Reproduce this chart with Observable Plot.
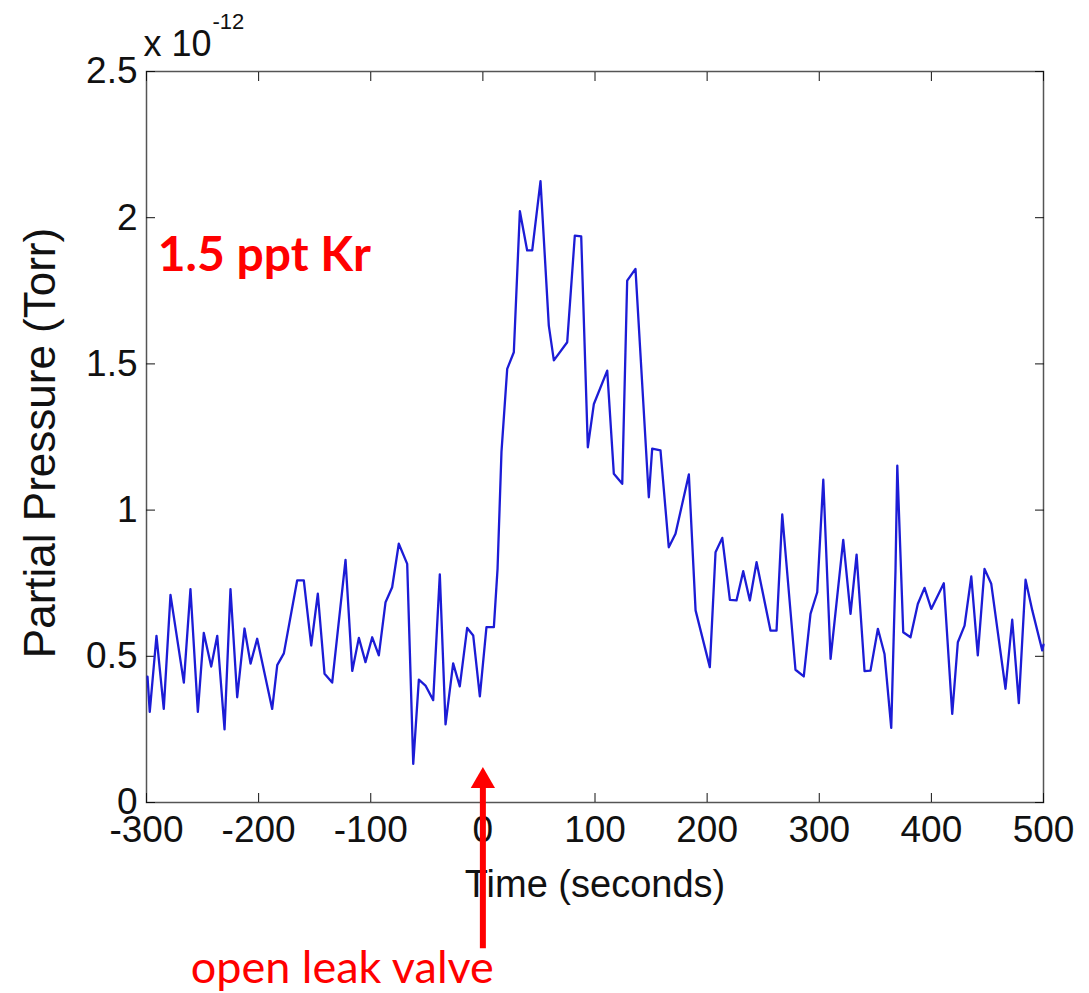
<!DOCTYPE html>
<html><head><meta charset="utf-8">
<script src="https://cdn.jsdelivr.net/npm/d3@7"></script>
<script src="https://cdn.jsdelivr.net/npm/@observablehq/plot@0.6"></script>
<style>html,body{margin:0;padding:0;background:#fff}</style>
</head><body><div id="chart"></div>
<script>
// Time (seconds) of each sample
const time = [
  -299.1,-297.1,-291.1,-284.6,-278.6,-266.7,-260.8,-254.2,-248.9,-242.3,
  -236.9,-230.4,-225.1,-219.1,-212.6,-207.2,-201.3,-187.9,-183.4,-177.5,
  -165.6,-159.7,-153.1,-147.2,-141.2,-134.4,-122.5,-116.5,-110.6,-104.7,
  -98.7,-92.8,-86.8,-80.9,-75.0,-67.5,-62.1,-57.1,-51.2,-44.3,
  -38.4,-33.3,-26.5,-20.6,-14.0,-8.6,-2.7,3.2,9.8,13.1,
  16.6,21.7,27.6,33.0,39.5,44.0,51.4,58.8,63.3,75.2,
  82.0,87.7,93.6,99.0,110.9,116.8,124.3,128.7,136.1,148.0,
  151.0,158.4,165.8,171.8,183.7,189.7,202.4,207.5,213.5,220.3,
  226.2,232.2,238.1,244.1,256.5,261.9,267.0,278.8,286.2,292.2,
  298.2,303.6,310.1,321.4,327.9,333.3,340.4,345.7,352.3,358.2,
  364.2,368.0,369.6,374.9,381.4,387.9,393.9,399.9,411.1,418.6,
  423.6,429.6,435.6,441.4,447.4,453.4,466.1,472.1,478.0,484.0,
  490.0,498.9,500
];
// Partial pressure, in units of 1e-12 Torr
const pressure = [
  0.43,0.31,0.57,0.32,0.71,0.41,0.73,0.31,0.58,0.465,
  0.57,0.25,0.73,0.36,0.595,0.475,0.56,0.32,0.47,0.51,
  0.76,0.76,0.537,0.714,0.44,0.41,0.83,0.45,0.563,0.48,
  0.565,0.503,0.685,0.736,0.885,0.816,0.132,0.42,0.40,0.35,
  0.78,0.267,0.476,0.397,0.597,0.571,0.363,0.6,0.6,0.8,
  1.2,1.483,1.54,2.022,1.888,1.888,2.125,1.631,1.512,1.574,
  1.939,1.936,1.215,1.363,1.477,1.124,1.09,1.785,1.825,1.044,
  1.21,1.204,0.873,0.919,1.122,0.657,0.463,0.856,0.905,0.693,
  0.691,0.791,0.691,0.822,0.588,0.588,0.985,0.454,0.431,0.645,
  0.719,1.104,0.491,0.898,0.645,0.848,0.449,0.451,0.594,0.508,
  0.255,0.793,1.152,0.582,0.565,0.679,0.734,0.662,0.75,0.303,
  0.548,0.605,0.773,0.503,0.799,0.748,0.389,0.625,0.34,0.762,
  0.657,0.52,0.54
];
const xTicks = [-300,-200,-100,0,100,200,300,400,500];
const yTicks = [0,0.5,1,1.5,2,2.5];
const xLabel = "Time (seconds)";
const yLabel = "Partial Pressure (Torr)";
const scaleBase = "x 10";
const scaleExp = "-12";
const sampleLabel = "1.5 ppt Kr";
const eventTime = [0];
const eventLabel = "open leak valve";

const data = time.map((t, i) => ({t, p: pressure[i]}));
const red = "#ff0000";
const axisFont = "'Liberation Sans', Arial, sans-serif";
const noteFont = "Lato, 'Open Sans', sans-serif";

const chart = Plot.plot({
  width: 1089,
  height: 993,
  marginLeft: 146,
  marginRight: 46,
  marginTop: 71,
  marginBottom: 191,
  style: {fontFamily: axisFont, fontSize: "36px", color: "#111", background: "#fff"},
  x: {domain: [-300, 500]},
  y: {domain: [0, 2.5]},
  marks: [
    Plot.frame({stroke: "#555", strokeWidth: 1.5}),
    Plot.axisX({ticks: xTicks, anchor: "bottom", tickSize: -9, tickPadding: 22, tickFormat: d => String(d), label: null, fontSize: 37}),
    Plot.axisX({ticks: xTicks, anchor: "top", tickSize: -9, tickFormat: () => "", label: null}),
    Plot.axisY({ticks: yTicks, anchor: "left", tickSize: -9, tickPadding: 18, tickFormat: d => String(d), label: null, fontSize: 37}),
    Plot.axisY({ticks: yTicks, anchor: "right", tickSize: -9, tickFormat: () => "", label: null}),
    Plot.line(data, {x: "t", y: "p", stroke: "#1c1cd6", strokeWidth: 2.3}),
    Plot.text([xLabel], {frameAnchor: "bottom", dy: 94, fontSize: 38}),
    Plot.text([yLabel], {frameAnchor: "left", textAnchor: "middle", rotate: -90, dx: -106, dy: 6, fontSize: 44}),
    Plot.text([scaleBase], {frameAnchor: "top-left", textAnchor: "start", dx: -3, dy: -41, fontSize: 36}),
    Plot.text([scaleExp], {frameAnchor: "top-left", textAnchor: "start", dx: 66, dy: -58, fontSize: 22}),
    Plot.text([sampleLabel], {x: -290, y: 1.87, textAnchor: "start", fill: red, fontWeight: "bold", fontSize: 48, fontFamily: noteFont}),
    Plot.ruleX(eventTime, {y1: -0.5, y2: 0.05, stroke: red, strokeWidth: 6}),
    Plot.dot(eventTime, {x: d => d, y: 0.05, dy: -7, symbol: "triangle", r: 9, fill: red, stroke: null}),
    Plot.text([eventLabel], {x: eventTime[0], y: -0.5, dx: 11, dy: 20, textAnchor: "end", fill: red, fontSize: 45, fontFamily: noteFont})
  ]
});
document.getElementById("chart").appendChild(chart);
</script>
</body></html>
